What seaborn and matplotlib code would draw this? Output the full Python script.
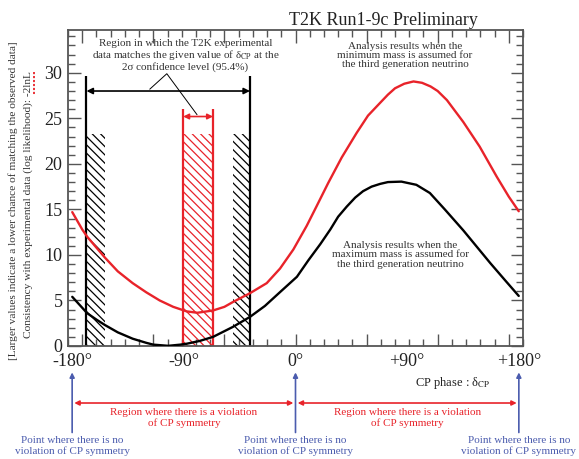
import numpy as np
import pandas as pd
import matplotlib
matplotlib.use("Agg")
import matplotlib.pyplot as plt
from matplotlib.lines import Line2D
from matplotlib.ticker import MultipleLocator
import seaborn as sns

# delta_CP in radians and -2lnL
dcp_min_mass = [-3.14, -3.00, -2.93, -2.80, -2.68, -2.50, -2.29, -2.10, -1.91, -1.72,
                -1.53, -1.38, -1.16, -1.00, -0.875, -0.64, -0.405, -0.218, -0.03, 0.158,
                0.30, 0.46, 0.65, 0.86, 1.02, 1.19, 1.30, 1.40, 1.53, 1.66,
                1.78, 1.90, 2.00, 2.13, 2.36, 2.59, 2.83, 3.00, 3.14]
nll_min_mass = [14.7, 12.8, 12.0, 10.8, 9.7, 8.2, 6.9, 5.9, 5.0, 4.3,
                3.8, 3.65, 3.9, 4.3, 4.85, 5.8, 6.9, 8.5, 10.6, 13.2,
                15.4, 17.9, 20.7, 23.4, 25.3, 26.7, 27.6, 28.3, 28.8, 29.05,
                28.9, 28.5, 28.0, 27.0, 24.6, 21.9, 18.6, 16.4, 14.8]

dcp_max_mass = [-3.14, -3.00, -2.93, -2.80, -2.68, -2.50, -2.29, -2.10, -2.00, -1.79,
                -1.62, -1.53, -1.35, -1.16, -0.88, -0.64, -0.43, -0.22, 0.02, 0.18,
                0.35, 0.49, 0.60, 0.72, 0.84, 0.95, 1.07, 1.19, 1.30, 1.49,
                1.70, 1.89, 2.10, 2.36, 2.55, 2.74, 2.95, 3.14]
nll_max_mass = [5.4, 4.2, 3.6, 2.9, 2.3, 1.5, 0.8, 0.35, 0.15, 0.02,
                0.15, 0.25, 0.55, 1.0, 2.1, 3.2, 4.4, 5.9, 7.6, 9.4,
                11.2, 12.8, 14.2, 15.3, 16.3, 17.0, 17.5, 17.8, 18.0, 18.05,
                17.7, 16.8, 15.0, 12.7, 10.9, 9.1, 7.2, 5.5]

# 2 sigma region edges (radians)
black_bands = [(-2.94, -2.68), (-0.884, -0.64)]
red_band = (-1.58, -1.16)
band_top = 23.3

tick_pos = [-np.pi, -np.pi / 2, 0, np.pi / 2, np.pi]
tick_text = ["-180°", "-90°", "0°", "+90°", "+180°"]
no_violation_pos = [-np.pi, 0, np.pi]

RED = "#e8232a"
BLUE = "#4b5cae"
GREY = "#333333"

sns.set_theme(style="ticks")
plt.rcParams["font.family"] = ["Liberation Serif", "DejaVu Serif"]
plt.rcParams["mathtext.fontset"] = "stix"
plt.rcParams["hatch.linewidth"] = 0.9

fig = plt.figure(figsize=(5.79, 4.59), dpi=100)
ax = fig.add_axes([68 / 579, 1 - 346 / 459, 455 / 579, 316 / 459])

df = pd.concat([
    pd.DataFrame({"dcp": dcp_min_mass, "nll": nll_min_mass, "case": "min"}),
    pd.DataFrame({"dcp": dcp_max_mass, "nll": nll_max_mass, "case": "max"}),
])
sns.lineplot(data=df, x="dcp", y="nll", hue="case",
             palette={"min": RED, "max": "black"}, linewidth=1.7,
             legend=False, ax=ax, zorder=3)

# hatched bands
hatch = "\\\\\\\\"
for lo, hi in black_bands:
    ax.fill_between([lo, hi], 0, band_top, facecolor="none", edgecolor="black",
                    hatch=hatch, linewidth=0)
ax.fill_between(list(red_band), 0, band_top, facecolor="none", edgecolor=RED,
                hatch=hatch, linewidth=0)
ax.vlines([black_bands[0][0], black_bands[1][1]], 0, 29.7, color="black", lw=1.6)
ax.vlines(list(red_band), 0, 26.0, color=RED, lw=1.6)

ax.annotate("", xy=(black_bands[0][0], 28.0), xytext=(black_bands[1][1], 28.0),
            arrowprops=dict(arrowstyle="<|-|>", color="black", lw=1.2,
                            mutation_scale=9, shrinkA=0, shrinkB=0))
ax.annotate("", xy=(red_band[0], 25.2), xytext=(red_band[1], 25.2),
            arrowprops=dict(arrowstyle="<|-|>", color=RED, lw=1.2,
                            mutation_scale=8, shrinkA=0, shrinkB=0))

ax.text(-1.55, 31.9,
        "Region in which the T2K experimental\n"
        "data matches the given value of δ$_{\\rm CP}$ at the\n"
        "2σ confidence level (95.4%)",
        ha="center", va="center", fontsize=8, color=GREY, linespacing=1.05)
ax.plot([-2.05, -1.81, -1.385], [28.2, 29.9, 25.4], color="black", lw=0.7)

ax.text(1.54, 31.9,
        "Analysis results when the\nminimum mass is assumed for\n"
        "the third generation neutrino",
        ha="center", va="center", fontsize=8, color=GREY, linespacing=1.05)
ax.text(1.47, 10.0,
        "Analysis results when the\nmaximum mass is assumed for\n"
        "the third generation neutrino",
        ha="center", va="center", fontsize=8, color=GREY, linespacing=1.05)

# axes styling
ax.set_xlim(-3.2, 3.2)
ax.set_ylim(0, 34.7)
ax.xaxis.set_major_locator(MultipleLocator(1))
ax.xaxis.set_minor_locator(MultipleLocator(0.2))
ax.yaxis.set_major_locator(MultipleLocator(5))
ax.yaxis.set_minor_locator(MultipleLocator(1))
ax.tick_params(which="both", direction="in", top=True, right=True, color="#555555")
ax.tick_params(which="major", length=9, width=1)
ax.tick_params(which="minor", length=5, width=1)
ax.tick_params(axis="x", labelbottom=False)
ax.tick_params(axis="y", labelsize=13, labelcolor="#222222", pad=4)
for sp in ax.spines.values():
    sp.set_color("#555555")
    sp.set_linewidth(1.3)
ax.set_xlabel("")
ax.set_ylabel("")

for pos, txt in zip(tick_pos, tick_text):
    ax.text(pos, -0.05, txt, transform=ax.get_xaxis_transform(), ha="center",
            va="center", fontsize=13, color="#222222")

fig.text(453 / 579, 1 - 383 / 459, "CP phase : δ$_{\\rm CP}$", ha="center",
         va="center", fontsize=9, color="#222222")

# bottom explanations
for pos in no_violation_pos:
    ax.annotate("", xy=(pos, -2.9), xytext=(pos, -9.5), annotation_clip=False,
                arrowprops=dict(arrowstyle="-|>", color=BLUE, lw=1.2,
                                mutation_scale=7, shrinkA=0, shrinkB=0))
    ax.text(pos, -11.0, "Point where there is no\nviolation of CP symmetry",
            ha="center", va="center", fontsize=8, color=BLUE, linespacing=1.15,
            clip_on=False)
for lo, hi in [(-np.pi, 0), (0, np.pi)]:
    ax.annotate("", xy=(lo + 0.03, -6.26), xytext=(hi - 0.03, -6.26),
                annotation_clip=False,
                arrowprops=dict(arrowstyle="<|-|>", color=RED, lw=1.2,
                                mutation_scale=7, shrinkA=0, shrinkB=0))
    ax.text((lo + hi) / 2, -7.9, "Region where there is a violation\nof CP symmetry",
            ha="center", va="center", fontsize=8, color=RED, linespacing=1.1,
            clip_on=False)

# y axis description
fig.text(13 / 579, 1 - 201 / 459,
         "[Larger values indicate a lower chance of matching the observed data]",
         rotation=90, ha="center", va="center", fontsize=8.2, color=GREY)
fig.text(28 / 579, 1 - 205 / 459,
         "Consistency with experimental data (log likelihood): -2lnL",
         rotation=90, ha="center", va="center", fontsize=8.2, color=GREY)
fig.add_artist(Line2D([34 / 579, 34 / 579], [1 - 72 / 459, 1 - 95 / 459],
                      color=RED, lw=1.3, ls=(0, (1.2, 1))))

fig.text(478 / 579, 1 - 25 / 459, "T2K Run1-9c Preliminary", ha="right",
         va="baseline", fontsize=13, color="#222222")

fig.savefig("out.png", dpi=100)
